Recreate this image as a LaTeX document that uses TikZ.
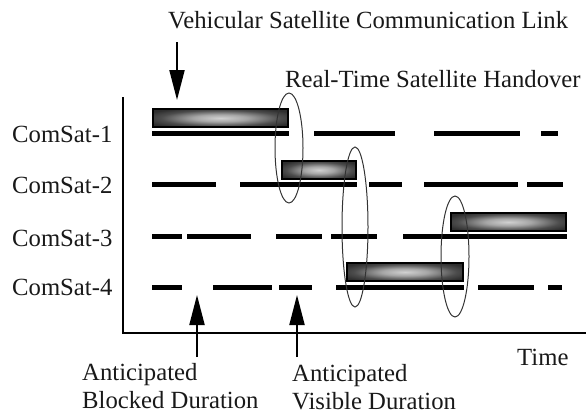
\documentclass[tikz,border=0pt]{standalone}
\usepackage{fontspec}
\setmainfont{Liberation Serif}
\usetikzlibrary{arrows.meta}
\pgfdeclareradialshading{boxglow}{\pgfpoint{0bp}{0bp}}{color(0bp)=(black!18); color(10bp)=(black!35); color(22bp)=(black!70); color(30bp)=(black!82); color(50bp)=(black!85)}
\tikzset{
  lbl/.style={anchor=base west, inner sep=0pt, text=black!90, font=\fontsize{24.7}{28}\selectfont},
  seg/.style={line width=5pt, black},
  linkbox/.style={shading=boxglow, draw=black, line width=1.6pt},
  hand/.style={draw=black!80, line width=1pt},
  axis/.style={line width=2pt, black},
  bigarrow/.style={line width=2pt, -{Triangle[length=30pt, width=15pt]}},
}
\begin{document}
\begin{tikzpicture}[x=1pt, y=-1pt]
\useasboundingbox (0,0) rectangle (586,415);
% texts
\node[lbl] (veh) at (168,28) {Vehicular Satellite Communication Link};
\node[lbl] (rth) at (285,87) {Real-Time Satellite Handover};
\node[lbl] (c1) at (12,142) {ComSat-1};
\node[lbl] (c2) at (12,193) {ComSat-2};
\node[lbl] (c3) at (12,246) {ComSat-3};
\node[lbl] (c4) at (12,295) {ComSat-4};
\node[lbl] (time) at (517,365) {Time};
\node[lbl] (ab1) at (82,380) {Anticipated};
\node[lbl] (ab2) at (82,408) {Blocked Duration};
\node[lbl] (av1) at (292,381) {Anticipated};
\node[lbl] (av2) at (292,409) {Visible Duration};
% axes
\coordinate (ytop) at (123,97);
\coordinate (orig) at (123,333);
\coordinate (xend) at (586,333);
\draw[axis] (ytop) -- (orig) -- (xend);
% satellite visibility segments
\foreach \a/\b in {152/289,314/395,434/520,541/558} \draw[seg] (\a,133) -- (\b,133);
\foreach \a/\b in {152/216,240/357,369/402,424/518,527/563} \draw[seg] (\a,184) -- (\b,184);
\foreach \a/\b in {152/182,187/251,276/322,331/377,403/567} \draw[seg] (\a,236) -- (\b,236);
\foreach \a/\b in {152/182,213/272,279/312,336/464,478/534,548/562} \draw[seg] (\a,287) -- (\b,287);
% link boxes
\path[linkbox] (153,109) rectangle (288,127);
\path[linkbox] (282,161) rectangle (356,179);
\path[linkbox] (451,213) rectangle (566,231);
\path[linkbox] (347,263) rectangle (463,281);
% handover ellipses
\draw[hand] (289,148) ellipse [x radius=14, y radius=55];
\draw[hand] (355,227) ellipse [x radius=13, y radius=80];
\draw[hand] (455,256.5) ellipse [x radius=14, y radius=60.5];
% arrows
\coordinate (vt) at (177,42);
\coordinate (vh) at (177,100);
\draw[bigarrow] (vt) -- (vh);
\coordinate (bt) at (197,357);
\coordinate (bh) at (197,295);
\draw[bigarrow] (bt) -- (bh);
\coordinate (st) at (297,357);
\coordinate (sh) at (297,295);
\draw[bigarrow] (st) -- (sh);
\end{tikzpicture}
\end{document}
